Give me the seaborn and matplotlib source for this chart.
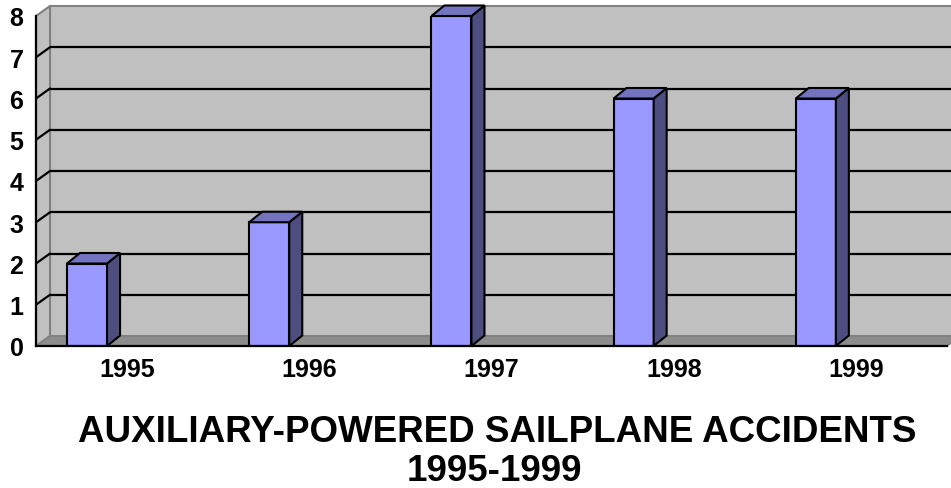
import matplotlib
matplotlib.use("Agg")
import matplotlib.pyplot as plt
from matplotlib.patches import Polygon, Rectangle
import seaborn as sns
import pandas as pd

# Data
years = ["1995", "1996", "1997", "1998", "1999"]
accidents = [2, 3, 8, 6, 6]
y_ticks = [0, 1, 2, 3, 4, 5, 6, 7, 8]
title_lines = ["AUXILIARY-POWERED SAILPLANE ACCIDENTS", "1995-1999"]

sns.set_theme(style="white")
plt.rcParams["font.family"] = ["Liberation Sans", "DejaVu Sans"]
plt.rcParams["font.weight"] = "bold"

W, H = 951, 489
fig = plt.figure(figsize=(W / 100, H / 100), dpi=100)
ax = fig.add_axes([36 / W, 142 / H, 911 / W, 330 / H])
ax.patch.set_visible(False)

df = pd.DataFrame({"year": years, "accidents": accidents})
sns.barplot(data=df, x="year", y="accidents", color="#9999FF", saturation=1,
            width=0.22, edgecolor="black", linewidth=1.5, ax=ax, zorder=3)
bar_patches = list(ax.patches)

# View window: bars sit in the front-left part of each category slot
shift = 0.22
x0, x1 = -0.28, 4.72
ymax = y_ticks[-1]
ax.set_xlim(x0, x1)
ax.set_ylim(0, ymax)

# Depth offsets in data units (pixels converted through the axes scale)
px_x = 911 / (x1 - x0)
px_y = 330 / ymax
wdx, wdy = 14 / px_x, 10 / px_y      # walls
bdx, bdy = 13 / px_x, 10.5 / px_y    # bar depth

wall = "#C0C0C0"
wall_edge = "#808080"
floor = "#8C8C8C"

# Back wall
ax.add_patch(Rectangle((x0 + wdx, wdy), x1 - x0, ymax, facecolor=wall,
                       edgecolor=wall_edge, lw=1.5, clip_on=False, zorder=0))
# Side wall
ax.add_patch(Polygon([(x0, 0), (x0 + wdx, wdy), (x0 + wdx, ymax + wdy), (x0, ymax)],
                     closed=True, facecolor=wall, edgecolor=wall_edge, lw=1.5,
                     clip_on=False, zorder=0.5))
# Floor
ax.add_patch(Polygon([(x0, 0), (x1, 0), (x1 + wdx, wdy), (x0 + wdx, wdy)],
                     closed=True, facecolor=floor, edgecolor=wall_edge, lw=1.2,
                     clip_on=False, zorder=1))

# Gridlines on back and side walls
for v in y_ticks[1:-1]:
    ax.plot([x0 + wdx, x1 + wdx], [v + wdy, v + wdy], color="black", lw=1.6,
            clip_on=False, zorder=1.5, solid_capstyle="butt")
    ax.plot([x0, x0 + wdx], [v, v + wdy], color="black", lw=1.6,
            clip_on=False, zorder=1.5)

# 3D side and top faces for each bar
for p in bar_patches:
    l = p.get_x()
    r = l + p.get_width()
    h = p.get_height()
    ax.add_patch(Polygon([(r, 0), (r + bdx, bdy), (r + bdx, h + bdy), (r, h)],
                         closed=True, facecolor="#4D4D80", edgecolor="black",
                         lw=1.5, clip_on=False, zorder=3.1))
    ax.add_patch(Polygon([(l, h), (r, h), (r + bdx, h + bdy), (l + bdx, h + bdy)],
                         closed=True, facecolor="#7373BF", edgecolor="black",
                         lw=1.5, clip_on=False, zorder=3.1))

# Axes lines
for s in ["top", "right"]:
    ax.spines[s].set_visible(False)
for s in ["left", "bottom"]:
    ax.spines[s].set_color("black")
    ax.spines[s].set_linewidth(1.6)
    ax.spines[s].set_zorder(4)

ax.set_xlabel("")
ax.set_ylabel("")
ax.set_yticks(y_ticks)
ax.set_yticklabels([str(t) for t in y_ticks])
ax.tick_params(axis="y", direction="out", length=6, width=1.5, color="black",
               pad=3, labelsize=18)

bounds = [x0 + i for i in range(len(years) + 1)]
ax.set_xticks(bounds)
ax.set_xticklabels([])
ax.set_xticks([i + shift for i in range(len(years))], minor=True)
ax.set_xticklabels(years, minor=True)
ax.tick_params(axis="x", which="major", direction="out", length=6, width=1.5,
               color="black")
ax.tick_params(axis="x", which="minor", length=0, pad=8, labelsize=18)
for lab in ax.get_xticklabels(minor=True) + ax.get_yticklabels():
    lab.set_fontweight("bold")
    lab.set_color("black")

fig.text(497 / W, 1 - 442 / H, title_lines[0], ha="center", va="baseline",
         fontsize=26.5, fontweight="bold", color="black")
fig.text(494 / W, 1 - 481 / H, title_lines[1], ha="center", va="baseline",
         fontsize=26.5, fontweight="bold", color="black")

fig.savefig("out.png", dpi=100, facecolor="white")
